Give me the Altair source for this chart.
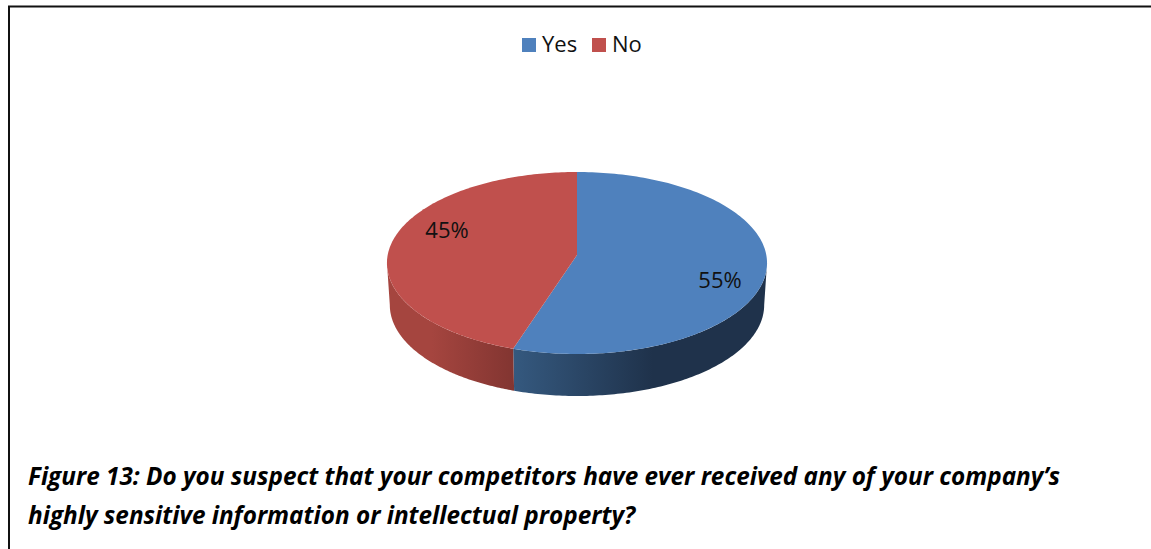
import numpy as np
import pandas as pd
import altair as alt

# Survey answers
categories = ["Yes", "No"]
shares = [55, 45]
top_colors = ["#4f81bd", "#c0504d"]

caption_lines = [
    "Figure 13: Do you suspect that your competitors have ever received any of your company\u2019s",
    "highly sensitive information or intellectual property?",
]

W, H = 1151, 549
HUB_X, HUB_Y = 577, 255
SX, SY, K = 189.3, 90.3, 0.088  # disc scale and perspective strength
DEPTH = 42
FONT = "Open Sans"


def project(t, lift=0.0, shrink=1.0):
    """Clockwise angle from twelve o'clock to page position on the tilted disc."""
    u, v = np.sin(t), -np.cos(t)
    d = 1 - K * v
    return HUB_X + shrink * SX * u / d, HUB_Y + SY * v / d + lift


edges = np.cumsum([0] + shares) / sum(shares) * 2 * np.pi
yes_end = edges[1]


def slice_frame(name, start, end):
    t = np.linspace(start, end, 160)
    x, y = project(t)
    x = np.r_[HUB_X, x, HUB_X]
    y = np.r_[HUB_Y, y, HUB_Y]
    return pd.DataFrame({"x": x, "y": y, "answer": name, "i": np.arange(len(x))})


def wall_frame(start, end):
    t = np.linspace(start, end, 120)
    x0, y0 = project(t)
    x1, y1 = project(t[::-1], DEPTH, 0.985)
    x = np.r_[x0, x1, x0[0]]
    y = np.r_[y0, y1, y0[0]]
    return pd.DataFrame({"x": x, "y": y, "i": np.arange(len(x))})


x_enc = alt.X("x:Q", scale=alt.Scale(domain=[0, W]), axis=None)
y_enc = alt.Y("y:Q", scale=alt.Scale(domain=[H, 0]), axis=None)


def gradient(stops):
    return alt.Gradient(
        gradient="linear", x1=0, x2=1, y1=0, y2=0,
        stops=[alt.GradientStop(offset=o, color=c) for o, c in stops],
    )


def wall(frame, stops):
    return alt.Chart(frame).mark_line(
        fill=gradient(stops), strokeWidth=0, interpolate="linear", clip=False
    ).encode(x=x_enc, y=y_enc, order="i:Q")


blue_wall = wall(
    wall_frame(np.radians(95), yes_end),
    [(0, "#35597f"), (0.55, "#1f324b"), (1, "#1f324b")],
)
red_wall = wall(
    wall_frame(yes_end, np.radians(265)),
    [(0, "#a5453f"), (0.35, "#a5453f"), (1, "#823531")],
)

slices = pd.concat(
    [slice_frame(c, a, b) for c, a, b in zip(categories, edges[:-1], edges[1:])]
)
color_scale = alt.Scale(domain=categories, range=top_colors)
tops = alt.Chart(slices).mark_line(strokeWidth=0, filled=True).encode(
    x=x_enc,
    y=y_enc,
    order="i:Q",
    fill=alt.Fill(
        "answer:N",
        scale=color_scale,
        legend=alt.Legend(
            title=None,
            orient="none",
            legendX=518,
            legendY=34,
            direction="horizontal",
            symbolType="square",
            symbolSize=196,
            symbolStrokeWidth=0,
            symbolOpacity=1,
            labelFont=FONT,
            labelFontSize=22,
            labelColor="#111111",
            labelOffset=2,
            columnPadding=10,
            padding=0,
        ),
    ),
)


def note(text, px, py, **kw):
    style = dict(font=FONT, fontSize=22, color="#111111", align="center", baseline="middle")
    style.update(kw)
    return alt.Chart(pd.DataFrame({"t": [text]})).mark_text(**style).encode(
        text="t:N", x=alt.value(px), y=alt.value(py)
    )


labels = note(f"{shares[0]}%", 720, 281) + note(f"{shares[1]}%", 447, 231)

caption = [
    note(line, 28, py, align="left", fontSize=24.3, fontWeight="bold", fontStyle="italic", color="#000000")
    for line, py in zip(caption_lines, [478, 517])
]

frame_top = alt.Chart(pd.DataFrame({"a": [0]})).mark_rule(color="#111111", strokeWidth=2).encode(
    x=alt.value(8), x2=alt.value(W), y=alt.value(6.5)
)
frame_left = alt.Chart(pd.DataFrame({"a": [0]})).mark_rule(color="#111111", strokeWidth=2).encode(
    x=alt.value(9), y=alt.value(6), y2=alt.value(H)
)

chart = alt.layer(
    frame_top, frame_left, blue_wall, red_wall, tops, labels, *caption
).properties(
    width=W,
    height=H,
    padding=0,
    autosize=alt.AutoSizeParams(type="none"),
    background="#ffffff",
).configure_view(stroke=None)

chart.save("out.html", embed_options={"renderer": "svg", "actions": False})
